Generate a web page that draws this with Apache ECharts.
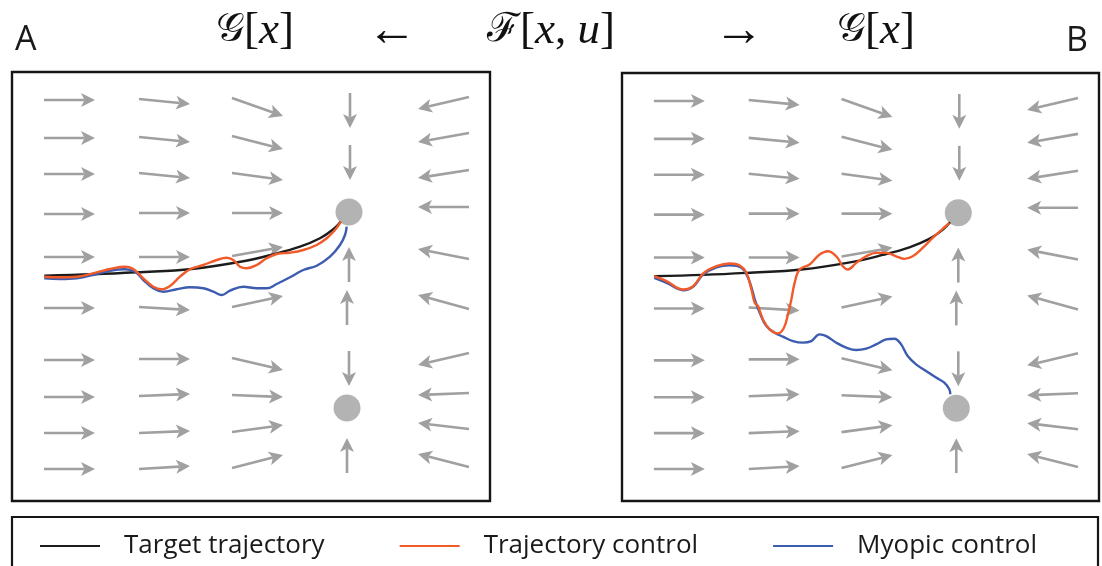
<!DOCTYPE html>
<html>
<head>
<meta charset="utf-8">
<script src="https://cdn.jsdelivr.net/npm/echarts@6/dist/echarts.min.js"></script>
<style>
  html, body { margin: 0; padding: 0; background: #fff; }
  #chart { width: 1102px; height: 566px; }
</style>
</head>
<body>
<div id="chart"></div>
<script>
// ---------------- DATA (state-space units, same frame for both panels) ----------------
// Vector field: four columns of mostly horizontal arrows (tail x, x-component, tail y per row, y-component per row)
const fieldColX  = [32, 127, 220, 457];
const fieldColDX = [51, 51, 51, -51];
const fieldTailY = [
  [401, 363, 327, 287, 244, 193, 141, 104, 68, 32],
  [402, 364, 328, 288, 244, 194, 142, 105, 68, 32],
  [403, 365, 328, 288, 245, 194, 143, 106, 69, 33],
  [404, 368, 331, 294, 242, 192, 148, 108, 72, 34]
];
const fieldDY = [
  [0, 0, 0, 0, 0, 0, 0, 0, 0, 0],
  [-5, -5, -5, 0, 0, -3, 0, 2, 2, 3],
  [-18, -13, -7, 0, 9, 11, -12, -2, 7, 13],
  [-12, -9, -8, 0, 10, 14, -12, -2, 6, 13]
];
// Vertical arrows on the column through the fixed points
const vertArrowX  = [338, 338, 337, 335, 337, 335];
const vertArrowY  = [408, 356, 219, 176, 150, 28];
const vertArrowDY = [-35, -35, 35, 35, -35, 35];
// Fixed points
const fixedPointX = [337, 335];
const fixedPointY = [289, 93];

// Target trajectory (same in A and B)
const targetX = [32.3, 81.3, 124.7, 179.7, 231.3, 261.3, 288, 308, 321.3, 328.7];
const targetY = [225.3, 226.7, 228.7, 232, 239.7, 246.7, 254.3, 262.7, 271.7, 279.3];

// Panel A
const trajCtrlAX = [32.3, 48, 64.7, 84.7, 98, 113, 121.3, 131.3, 141.3, 149.7, 158, 168, 178, 191.3, 204.7, 214.7, 221.3, 228, 234.7, 244.7, 254.7, 264.7, 278, 291.3, 304.7, 314.7, 323, 329];
const trajCtrlAY = [224.3, 223.7, 224.3, 228.7, 232, 234.3, 232, 222.7, 214.3, 211.7, 215, 224.3, 231.7, 236, 241, 243.3, 241, 234.3, 232.7, 236, 242.7, 247, 248.3, 251, 256, 262.7, 271, 279.3];
const myopicAX = [32.3, 48, 64.7, 84.7, 98, 113, 123, 131.3, 141.3, 151.3, 164.7, 178, 191.3, 201.3, 209.7, 218, 231.3, 244.7, 254.7, 264.7, 278, 291.3, 304.7, 318, 328, 333, 334.7];
const myopicAY = [222.7, 222, 222.7, 227, 230.3, 231.7, 229.3, 221, 212.7, 209.3, 211.7, 213.7, 212.7, 209.3, 206, 210.3, 214.3, 212.7, 212.7, 217, 223.7, 231, 235.3, 244.3, 256, 266, 274.3];

// Panel B
const trajCtrlBX = [32.3, 44.7, 61.3, 71.3, 81.3, 94.7, 108, 118, 124.7, 129.7, 133, 136.3, 141.3, 148, 156.3, 162.3, 166.3, 169.7, 173, 178, 188, 198, 206.3, 214.7, 221.3, 226.3, 234.7, 244.7, 254.7, 264.7, 274.7, 283, 291.3, 301.3, 311.3, 321.3, 328];
const trajCtrlBY = [225.3, 220.3, 212, 215.3, 228, 235.3, 238, 236, 228.7, 212, 198.7, 195.3, 182, 172, 168, 173.7, 187, 202, 218.7, 232, 237, 247, 250.3, 245.3, 235.3, 232, 238.7, 245.3, 248.7, 248.7, 245.3, 242.7, 245.3, 253.7, 263.7, 272.7, 278.7];
const myopicBX = [32.3, 44.7, 61.3, 71.3, 81.3, 94.7, 108, 119.7, 126.3, 131.3, 133, 138, 144.7, 153, 161.3, 171.3, 181.3, 189.7, 198, 204.7, 214.7, 224.7, 234.7, 244.7, 254.7, 264.7, 273, 279.7, 286.3, 294.7, 304.7, 314.7, 323, 328, 329];
const myopicBY = [223.7, 218.7, 211.3, 214.7, 227, 234.3, 236.3, 233.7, 223.7, 208.7, 202, 188.7, 175.3, 168.7, 164.7, 160.3, 158.7, 160.3, 167, 165.3, 158.7, 153.7, 151.3, 152.7, 157, 162, 162.7, 157, 145.3, 137, 130.3, 123.7, 118.7, 112, 107];

const seriesNames = ['Target trajectory', 'Trajectory control', 'Myopic control'];
const seriesColors = ['#1c1c1c', '#f15a29', '#3c5cb0'];
const panelLabels = ['A', 'B'];

// ---------------- BUILD ----------------
const arrowData = [];
fieldColX.forEach((x, c) => {
  fieldTailY[c].forEach((y, r) => arrowData.push([x, y, fieldColDX[c], fieldDY[c][r]]));
});
vertArrowX.forEach((x, i) => arrowData.push([x, vertArrowY[i], 0, vertArrowDY[i]]));

const zip = (xs, ys) => xs.map((x, i) => [x, ys[i]]);

function renderArrow(params, api) {
  const x = api.value(0), y = api.value(1), dx = api.value(2), dy = api.value(3);
  const p0 = api.coord([x, y]);
  const p1 = api.coord([x + dx, y + dy]);
  const vx = p1[0] - p0[0], vy = p1[1] - p0[1];
  const len = Math.sqrt(vx * vx + vy * vy) || 1;
  const ux = vx / len, uy = vy / len;
  const nx = -uy, ny = ux;
  const hl = 14, hw = 7, notch = 3.5;
  const base = [p1[0] - ux * hl, p1[1] - uy * hl];
  const inner = [p1[0] - ux * (hl - notch), p1[1] - uy * (hl - notch)];
  const gray = '#a0a0a0';
  return {
    type: 'group',
    children: [
      { type: 'line', shape: { x1: p0[0], y1: p0[1], x2: inner[0], y2: inner[1] },
        style: { stroke: gray, lineWidth: 2.6 } },
      { type: 'polygon', shape: { points: [
          p1,
          [base[0] + nx * hw, base[1] + ny * hw],
          inner,
          [base[0] - nx * hw, base[1] - ny * hw]
        ] }, style: { fill: gray } }
    ]
  };
}

const series = [];
[0, 1].forEach(g => {
  series.push({
    type: 'custom', xAxisIndex: g, yAxisIndex: g, renderItem: renderArrow,
    data: arrowData, silent: true, z: 1
  });
  series.push({
    type: 'scatter', xAxisIndex: g, yAxisIndex: g, symbolSize: 27,
    itemStyle: { color: '#a0a0a0' }, data: zip(fixedPointX, fixedPointY), silent: true, z: 2
  });
  const sets = g === 0
    ? [zip(targetX, targetY), zip(trajCtrlAX, trajCtrlAY), zip(myopicAX, myopicAY)]
    : [zip(targetX, targetY), zip(trajCtrlBX, trajCtrlBY), zip(myopicBX, myopicBY)];
  const order = [0, 2, 1];
  order.forEach(k => {
    series.push({
      name: seriesNames[k], type: 'line', xAxisIndex: g, yAxisIndex: g,
      data: sets[k], smooth: 0.4, showSymbol: false, symbol: 'none',
      lineStyle: { color: seriesColors[k], width: 2.4 }, itemStyle: { color: seriesColors[k] },
      z: 3 + (k === 1 ? 2 : k === 2 ? 1 : 0), silent: true
    });
  });
});

const mathRich = {
  c: { fontFamily: 'DejaVu Serif', fontSize: 40, fill: '#111' },
  r: { fontFamily: 'Liberation Serif', fontSize: 45, fill: '#111' },
  i: { fontFamily: 'Liberation Serif', fontStyle: 'italic', fontSize: 45, fill: '#111' }
};

const axisHidden = { show: false };
const option = {
  animation: false,
  backgroundColor: '#fff',
  grid: [
    { left: 12, top: 72, width: 478, height: 429, show: true, borderColor: '#151515', borderWidth: 2.4, backgroundColor: 'transparent' },
    { left: 622, top: 73, width: 477, height: 428, show: true, borderColor: '#151515', borderWidth: 2.4, backgroundColor: 'transparent' }
  ],
  xAxis: [
    { type: 'value', gridIndex: 0, min: 0, max: 478, ...axisHidden },
    { type: 'value', gridIndex: 1, min: 0, max: 478, ...axisHidden }
  ],
  yAxis: [
    { type: 'value', gridIndex: 0, min: 0, max: 429, ...axisHidden },
    { type: 'value', gridIndex: 1, min: 0, max: 429, ...axisHidden }
  ],
  legend: {
    left: 40, top: 533, padding: 0, icon: 'rect', itemWidth: 60, itemHeight: 2, itemGap: 75,
    data: seriesNames,
    textStyle: { fontFamily: 'Open Sans', fontSize: 26, color: '#1a1a1a', padding: [0, 0, 0, 19] }
  },
  graphic: [
    { type: 'rect', shape: { x: 12, y: 517, width: 1086, height: 70 },
      style: { fill: 'none', stroke: '#151515', lineWidth: 2.2 }, silent: true },
    { type: 'text', x: 15, y: 40, style: { text: panelLabels[0], font: '34px "Open Sans"', fill: '#1a1a1a', verticalAlign: 'middle' } },
    { type: 'text', x: 1066, y: 41, style: { text: panelLabels[1], font: '34px "Open Sans"', fill: '#1a1a1a', verticalAlign: 'middle' } },
    { type: 'text', x: 255, y: 31, style: { text: '{c|𝒢}{r|[}{i|x}{r|]}', align: 'center', verticalAlign: 'middle', rich: mathRich } },
    { type: 'text', x: 392, y: 32, style: { text: '←', font: '50px "Liberation Serif"', fill: '#111', align: 'center', verticalAlign: 'middle' } },
    { type: 'text', x: 551, y: 31, style: { text: '{c|ℱ}{r|[}{i|x}{r|, }{i|u}{r|]}', align: 'center', verticalAlign: 'middle', rich: mathRich } },
    { type: 'text', x: 739, y: 32, style: { text: '→', font: '50px "Liberation Serif"', fill: '#111', align: 'center', verticalAlign: 'middle' } },
    { type: 'text', x: 876, y: 31, style: { text: '{c|𝒢}{r|[}{i|x}{r|]}', align: 'center', verticalAlign: 'middle', rich: mathRich } }
  ],
  series: series
};

const chart = echarts.init(document.getElementById('chart'), null, { renderer: 'canvas' });
chart.setOption(option);
</script>
</body>
</html>
